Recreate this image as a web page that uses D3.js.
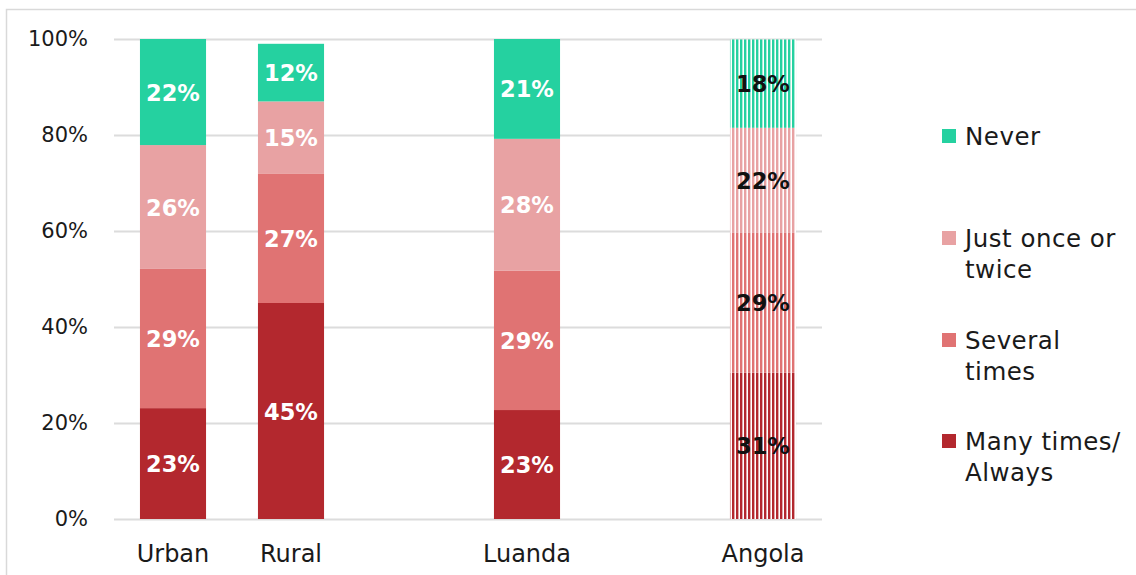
<!DOCTYPE html>
<html>
<head>
<meta charset="utf-8">
<script src="https://cdn.jsdelivr.net/npm/d3@7.9.0/dist/d3.min.js"></script>
<style>
  body { margin: 0; background: #fff; }
  svg { display: block; font-family: "DejaVu Sans", sans-serif; }
</style>
</head>
<body>
<svg id="chart" width="1136" height="575"></svg>
<script>
// Data
const categories = ["Urban", "Rural", "gap1", "Luanda", "gap2", "Angola"];
const catLabels = ["Urban", "Rural", "", "Luanda", "", "Angola"];
const seriesNames = ["Many times/ Always", "Several times", "Just once or twice", "Never"];
const legendLines = [["Never"], ["Just once or", "twice"], ["Several", "times"], ["Many times/", "Always"]];
const manyTimes = [23.1, 45, null, 22.7, null, 30.5];
const several = [29, 27, null, 29, null, 29.1];
const justOnce = [25.8, 15, null, 27.5, null, 21.9];
const never = [22.1, 12, null, 20.8, null, 18.4];
const yTicks = [0, 20, 40, 60, 80, 100];
const colors = ["#b3282e", "#e07373", "#e8a2a3", "#25d1a0"];
const striped = ["Angola"];

const svg = d3.select("#chart");
const W = 1136, H = 575;
const mLeft = 114, mRight = 822, mTop = 39, mBottom = 519;

// frame
svg.append("rect")
  .attr("x", 6.5).attr("y", 9.5)
  .attr("width", W + 20).attr("height", H + 20)
  .attr("fill", "none").attr("stroke", "#d9d9d9").attr("stroke-width", 1.5);

const x = d3.scaleBand().domain(categories).range([mLeft, mRight])
  .paddingInner(0.44).paddingOuter(0.22);
const y = d3.scaleLinear().domain([0, 100]).range([mBottom, mTop]);

// stripe patterns
const defs = svg.append("defs");
colors.forEach((c, i) => {
  const p = defs.append("pattern")
    .attr("id", "stripe" + i)
    .attr("patternUnits", "userSpaceOnUse")
    .attr("width", 4).attr("height", 10);
  p.append("rect").attr("width", 4).attr("height", 10).attr("fill", "#fff");
  p.append("rect").attr("width", 2.4).attr("height", 10).attr("fill", c);
});

// gridlines
svg.append("g")
  .attr("transform", `translate(${mLeft},0)`)
  .call(d3.axisLeft(y).tickValues(yTicks).tickSize(-(mRight - mLeft)).tickFormat(""))
  .call(g => g.select(".domain").remove())
  .call(g => g.selectAll("line").attr("stroke", "#dcdcdc").attr("stroke-width", 2));

// y labels
svg.append("g")
  .attr("transform", `translate(88,0)`)
  .call(d3.axisLeft(y).tickValues(yTicks).tickSize(0).tickPadding(0).tickFormat(d => d + "%"))
  .call(g => g.select(".domain").remove())
  .call(g => g.selectAll("text").attr("font-size", 21).attr("fill", "#1a1a1a")
    .attr("font-family", "DejaVu Sans, sans-serif"));

// x labels
svg.append("g")
  .attr("transform", `translate(0,${mBottom})`)
  .call(d3.axisBottom(x).tickSize(0).tickPadding(0).tickFormat((d, i) => catLabels[i]))
  .call(g => g.select(".domain").remove())
  .call(g => g.selectAll("text").attr("font-size", 24).attr("fill", "#1a1a1a")
    .attr("dy", null).attr("y", 43)
    .attr("font-family", "DejaVu Sans, sans-serif"));

// stacked bars
const table = categories.map((c, i) => ({
  cat: c,
  s0: manyTimes[i], s1: several[i], s2: justOnce[i], s3: never[i]
})).filter(d => d.s0 != null);
const stack = d3.stack().keys(["s0", "s1", "s2", "s3"])(table);

const layers = svg.append("g").selectAll("g").data(stack).join("g");
layers.selectAll("rect")
  .data((d, k) => d.map(v => ({ v, k })))
  .join("rect")
  .attr("x", d => x(d.v.data.cat))
  .attr("width", x.bandwidth())
  .attr("y", d => y(d.v[1]))
  .attr("height", d => y(d.v[0]) - y(d.v[1]))
  .attr("fill", d => striped.includes(d.v.data.cat) ? `url(#stripe${d.k})` : colors[d.k]);

layers.selectAll("text")
  .data((d, k) => d.map(v => ({ v, k })))
  .join("text")
  .attr("x", d => x(d.v.data.cat) + x.bandwidth() / 2)
  .attr("y", d => y((d.v[0] + d.v[1]) / 2))
  .attr("dy", "0.38em")
  .attr("text-anchor", "middle")
  .attr("font-size", 22.5)
  .attr("font-weight", "bold")
  .attr("fill", d => striped.includes(d.v.data.cat) ? "#111" : "#fff")
  .text(d => Math.round(d.v[1] - d.v[0]) + "%");

// legend
const legendY = [136, 238, 340, 441];
const order = [3, 2, 1, 0];
const lg = svg.append("g").selectAll("g").data(order).join("g")
  .attr("transform", (d, i) => `translate(942,${legendY[i]})`);
lg.append("rect").attr("x", 0).attr("y", -7).attr("width", 14).attr("height", 14)
  .attr("fill", d => colors[d]);
lg.append("text")
  .attr("x", 23).attr("y", 9)
  .attr("font-size", 24.5).attr("letter-spacing", 0.5).attr("fill", "#1a1a1a")
  .selectAll("tspan").data((d, i) => legendLines[i]).join("tspan")
  .attr("x", 23).attr("dy", (d, j) => j === 0 ? 0 : 31)
  .text(d => d);
</script>
</body>
</html>
